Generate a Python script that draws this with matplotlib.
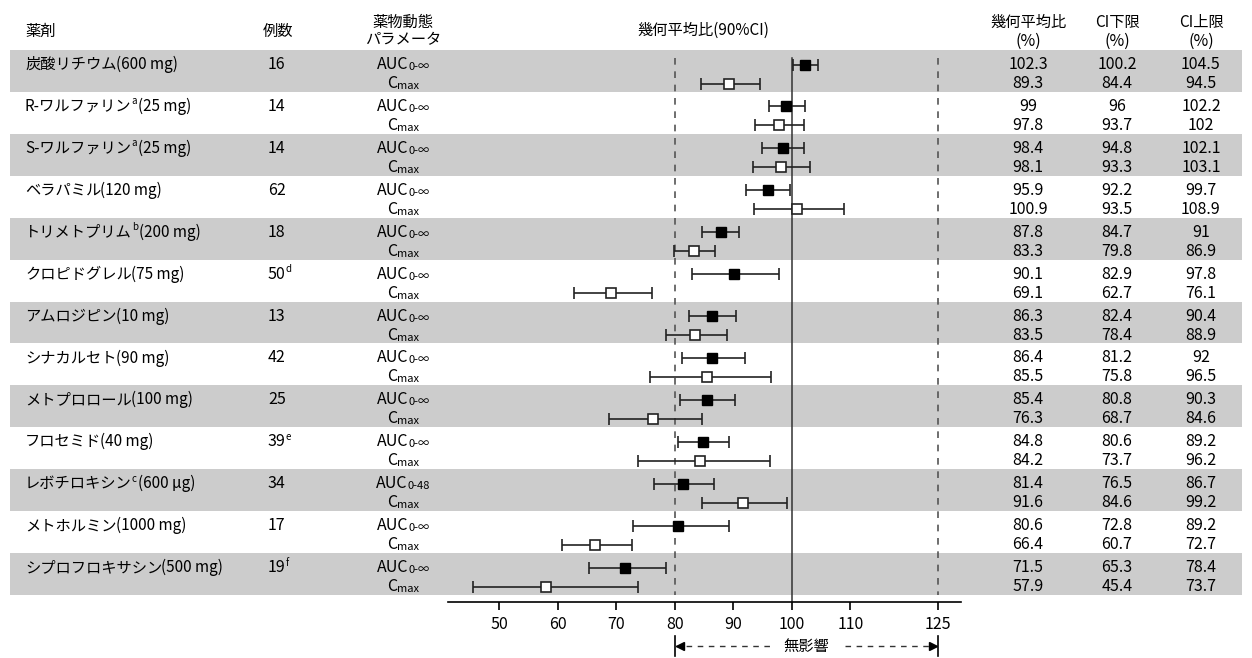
import numpy as np
import matplotlib
matplotlib.use("Agg")
import matplotlib.pyplot as plt
from matplotlib.patches import Rectangle

plt.rcParams['font.family'] = ['Noto Sans CJK JP', 'DejaVu Sans']

drugs = ["炭酸リチウム", "R-ワルファリン", "S-ワルファリン", "ベラパミル", "トリメトプリム",
         "クロピドグレル", "アムロジピン", "シナカルセト", "メトプロロール", "フロセミド",
         "レボチロキシン", "メトホルミン", "シプロフロキサシン"]
drug_sup = ["", "a", "a", "", "b", "", "", "", "", "", "c", "", ""]
doses = ["(600 mg)", "(25 mg)", "(25 mg)", "(120 mg)", "(200 mg)", "(75 mg)", "(10 mg)",
         "(90 mg)", "(100 mg)", "(40 mg)", "(600 μg)", "(1000 mg)", "(500 mg)"]
n_cases = ["16", "14", "14", "62", "18", "50", "13", "42", "25", "39", "34", "17", "19"]
n_sup = ["", "", "", "", "", "d", "", "", "", "e", "", "", "f"]
auc_sub = ["0-∞"] * 10 + ["0-48"] + ["0-∞"] * 2

auc_gmr = [102.3, 99, 98.4, 95.9, 87.8, 90.1, 86.3, 86.4, 85.4, 84.8, 81.4, 80.6, 71.5]
auc_lo = [100.2, 96, 94.8, 92.2, 84.7, 82.9, 82.4, 81.2, 80.8, 80.6, 76.5, 72.8, 65.3]
auc_hi = [104.5, 102.2, 102.1, 99.7, 91, 97.8, 90.4, 92, 90.3, 89.2, 86.7, 89.2, 78.4]
cmax_gmr = [89.3, 97.8, 98.1, 100.9, 83.3, 69.1, 83.5, 85.5, 76.3, 84.2, 91.6, 66.4, 57.9]
cmax_lo = [84.4, 93.7, 93.3, 93.5, 79.8, 62.7, 78.4, 75.8, 68.7, 73.7, 84.6, 60.7, 45.4]
cmax_hi = [94.5, 102, 103.1, 108.9, 86.9, 76.1, 88.9, 96.5, 84.6, 96.2, 99.2, 72.7, 73.7]

xticks = [50, 60, 70, 80, 90, 100, 110, 125]

W, H = 1252, 658
fig = plt.figure(figsize=(W / 100, H / 100), dpi=100)
bg = fig.add_axes([0, 0, 1, 1])
bg.set_xlim(0, W)
bg.set_ylim(H, 0)
bg.axis('off')
renderer = fig.canvas.get_renderer()

FS = 11
FV = 11.5


def rich(x, y, parts, ha="left"):
    # parts: (text, fontsize, dy, kern after)
    objs = [bg.text(0, y + dy, s, fontsize=fs, va="center", ha="left") for s, fs, dy, k in parts]
    widths = [t.get_window_extent(renderer).width + p[3] for t, p in zip(objs, parts)]
    x0 = x - sum(widths) / 2 if ha == "center" else x
    for t, w in zip(objs, widths):
        t.set_x(x0)
        x0 += w


# rows
n = len(drugs)
top0, bot = 50, 595
h = (bot - top0) / n
tops = top0 + np.arange(n) * h
y_auc = tops + 14.5
y_cmax = tops + 33.5

for i in range(n):
    if i % 2 == 0:
        bg.add_patch(Rectangle((10, tops[i]), 1232, h, color="#cccccc", lw=0))

# header
bg.text(25, 31, "薬剤", fontsize=FS, va="center")
bg.text(263, 31, "例数", fontsize=FS, va="center")
bg.text(403, 22, "薬物動態", fontsize=FS, va="center", ha="center")
bg.text(403, 40, "パラメータ", fontsize=FS, va="center", ha="center")
bg.text(703, 30, "幾何平均比(90%CI)", fontsize=FS, va="center", ha="center")
col_x = [1028, 1117, 1201]
for cx, lab in zip(col_x, ["幾何平均比", "CI下限", "CI上限"]):
    bg.text(cx, 22, lab, fontsize=FS, va="center", ha="center")
    bg.text(cx, 41, "(%)", fontsize=FV, va="center", ha="center")

# table body
for i in range(n):
    if drug_sup[i]:
        parts = [(drugs[i], FS, 0, 0), (drug_sup[i], 7, -5, 1.5), (doses[i], FS, 0, 0)]
    else:
        parts = [(drugs[i], FS, 0, -1), (doses[i], FS, 0, 0)]
    rich(25, y_auc[i], parts)
    parts = [(n_cases[i], FV, 0, 0)]
    if n_sup[i]:
        parts.append((n_sup[i], 7, -5, 0))
    rich(268, y_auc[i], parts)
    rich(403, y_auc[i], [("AUC", FV, 0, 0), (auc_sub[i], 8, 2.5, 0)], ha="center")
    rich(403, y_cmax[i], [("C", FV, 0, 0), ("max", 8, 2.5, 0)], ha="center")
    for cx, a, c in zip(col_x, [auc_gmr, auc_lo, auc_hi], [cmax_gmr, cmax_lo, cmax_hi]):
        bg.text(cx, y_auc[i], f"{a[i]:g}", fontsize=FV, va="center", ha="center")
        bg.text(cx, y_cmax[i], f"{c[i]:g}", fontsize=FV, va="center", ha="center")

# forest plot
ax_l, ax_r, ax_b, ax_t = 448, 961, 602, 50
ax = fig.add_axes([ax_l / W, (H - ax_b) / H, (ax_r - ax_l) / W, (ax_b - ax_t) / H])
ax.patch.set_alpha(0)
ax.set_xlim(41.2, 128.9)
ax.set_ylim(ax_b, ax_t)
for s in ["top", "left", "right"]:
    ax.spines[s].set_visible(False)
ax.spines["bottom"].set_linewidth(1.2)
ax.set_yticks([])
ax.set_xticks(xticks)
ax.tick_params(axis="x", length=6, width=1.2, labelsize=FV, pad=4)

ax.plot([100, 100], [58, ax_b], color="#333333", lw=1.1)
for xv in [80, 125]:
    ax.plot([xv, xv], [58, bot], color="#555555", lw=1.2, ls=(0, (4, 4)))

auc_gmr = np.array(auc_gmr)
cmax_gmr = np.array(cmax_gmr)
ax.errorbar(auc_gmr, y_auc, xerr=[auc_gmr - np.array(auc_lo), np.array(auc_hi) - auc_gmr],
            fmt="s", mfc="black", mec="black", ms=7, ecolor="#222222", elinewidth=1.2,
            capsize=4, capthick=1.2, zorder=3)
ax.errorbar(cmax_gmr, y_cmax, xerr=[cmax_gmr - np.array(cmax_lo), np.array(cmax_hi) - cmax_gmr],
            fmt="s", mfc="white", mec="#222222", mew=1.2, ms=7, ecolor="#222222", elinewidth=1.2,
            capsize=4, capthick=1.2, zorder=3)

# no-effect range annotation
ya = 646
mid = (80 + 125) / 2
for xv in [80, 125]:
    ax.plot([xv, xv], [636, 656], color="black", lw=1.2, clip_on=False)
ax.plot([80, mid - 6.3], [ya, ya], color="#333333", lw=1, ls=(0, (4, 4)), clip_on=False)
ax.plot([mid + 6.6, 125], [ya, ya], color="#333333", lw=1, ls=(0, (4, 4)), clip_on=False)
ax.plot(80.9, ya, marker="<", ms=6, color="black", clip_on=False)
ax.plot(124.1, ya, marker=">", ms=6, color="black", clip_on=False)
ax.text(mid, ya, "無影響", fontsize=FS, ha="center", va="center")

fig.savefig("out.png", dpi=100)
